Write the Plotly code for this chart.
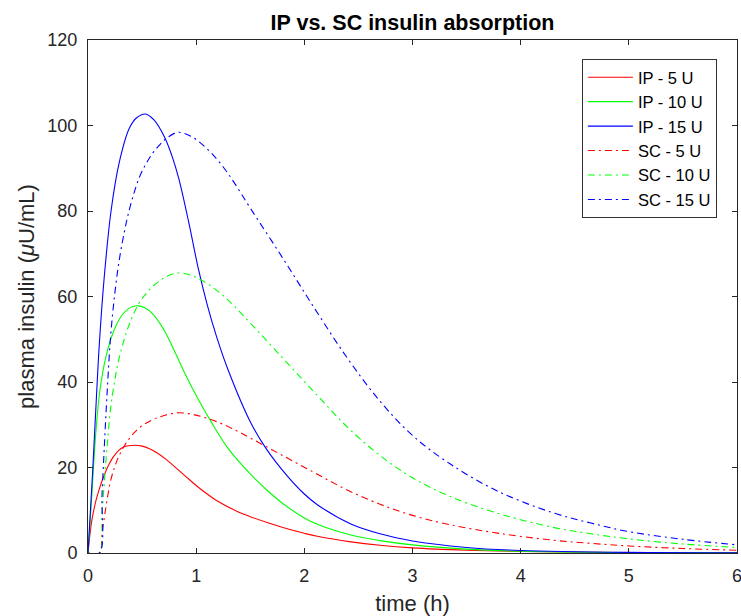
import plotly.graph_objects as go

# ---- data ----
ip5_t  = [0, 0.028, 0.05, 0.074, 0.1, 0.136, 0.18, 0.229, 0.28, 0.33, 0.38, 0.43, 0.5, 0.568, 0.64, 0.722, 0.8, 0.9, 1.0, 1.08, 1.2, 1.39, 1.5, 1.67, 1.81, 2.0, 2.12, 2.43, 2.7, 3.0, 3.5, 4.0, 5.0, 6.0]
ip5_v  = [0, 6.4, 9.6, 12.3, 14.6, 17.3, 20.0, 22.3, 23.9, 24.8, 25.1, 25.2, 25.0, 24.4, 23.4, 21.9, 20.2, 18.0, 15.8, 14.2, 12.1, 9.6, 8.5, 7.0, 5.9, 4.6, 3.9, 2.6, 1.8, 1.2, 0.65, 0.35, 0.12, 0.05]

ip10_t = [0, 0.028, 0.058, 0.085, 0.11, 0.14, 0.167, 0.216, 0.26, 0.31, 0.367, 0.42, 0.466, 0.53, 0.6, 0.66, 0.722, 0.8, 0.9, 1.02, 1.15, 1.30, 1.5, 1.65, 1.81, 2.0, 2.12, 2.43, 2.7, 3.0, 3.5, 4.0, 5.0, 6.0]
ip10_v = [0, 10.5, 23.0, 32.0, 38.0, 42.8, 46.0, 50.4, 53.2, 55.5, 57.0, 57.7, 57.8, 57.3, 55.9, 53.9, 51.3, 47.2, 41.8, 35.9, 30.2, 24.3, 18.5, 14.8, 11.4, 8.2, 6.7, 4.2, 2.9, 1.9, 0.9, 0.4, 0.1, 0.05]

ip15_t = [0, 0.043, 0.074, 0.105, 0.15, 0.213, 0.29, 0.383, 0.45, 0.53, 0.61, 0.707, 0.78, 0.84, 0.93, 1.02, 1.1, 1.19, 1.3, 1.5, 1.65, 1.81, 2.0, 2.12, 2.43, 2.7, 3.0, 3.5, 4.0, 5.0, 6.0]
ip15_v = [0, 19.0, 34.5, 49.0, 64.5, 80.0, 91.5, 99.4, 101.8, 102.7, 101.3, 97.3, 92.6, 87.5, 77.5, 66.5, 58.3, 50.5, 42.5, 30.7, 24.3, 19.0, 13.8, 11.3, 6.8, 4.5, 2.8, 1.3, 0.6, 0.15, 0.05]

sc_t   = [0, 0.105, 0.13, 0.155, 0.18, 0.21, 0.25, 0.29, 0.34, 0.38, 0.43, 0.48, 0.54, 0.60, 0.66, 0.72, 0.83, 0.95, 1.05, 1.15, 1.25, 1.35, 1.5, 1.8, 2.1, 2.4, 2.7, 3.0, 3.35, 3.8, 4.3, 4.65, 5.0, 5.5, 6.0]
sc5_v  = [0, 0, 4.6, 9.0, 13.0, 17.0, 20.4, 22.9, 25.2, 26.7, 28.2, 29.4, 30.4, 31.2, 31.8, 32.3, 32.8, 32.5, 31.9, 31.1, 30.1, 28.9, 26.9, 22.8, 18.7, 14.7, 11.4, 8.8, 6.6, 4.6, 3.0, 2.25, 1.65, 1.05, 0.65]
sc10_v = [0, 0, 9.2, 18.0, 26.0, 34.0, 40.8, 45.8, 50.4, 53.4, 56.4, 58.8, 60.8, 62.4, 63.6, 64.6, 65.5, 65.0, 63.8, 62.2, 60.2, 57.8, 53.8, 45.6, 37.4, 29.4, 22.8, 17.6, 13.2, 9.2, 6.0, 4.5, 3.3, 2.1, 1.3]
sc15_v = [0, 0, 13.8, 27.0, 39.0, 51.0, 61.2, 68.7, 75.6, 80.1, 84.6, 88.2, 91.2, 93.6, 95.4, 96.9, 98.4, 97.5, 95.7, 93.3, 90.3, 86.7, 80.7, 69.0, 57.0, 45.5, 35.5, 27.5, 20.8, 14.3, 9.4, 7.0, 5.0, 3.2, 1.9]

names = ["IP - 5 U", "IP - 10 U", "IP - 15 U", "SC - 5 U", "SC - 10 U", "SC - 15 U"]
colors = ["#FF0000", "#00FF00", "#0000FF"]

x_ticks = [0, 1, 2, 3, 4, 5, 6]
y_ticks = [0, 20, 40, 60, 80, 100, 120]

dashdot = "7px,4px,2px,4px"
series = [
    (ip5_t, ip5_v, colors[0], "solid"),
    (ip10_t, ip10_v, colors[1], "solid"),
    (ip15_t, ip15_v, colors[2], "solid"),
    (sc_t, sc5_v, colors[0], dashdot),
    (sc_t, sc10_v, colors[1], dashdot),
    (sc_t, sc15_v, colors[2], dashdot),
]

fig = go.Figure()
for i, (t, v, c, d) in enumerate(series):
    fig.add_trace(go.Scatter(
        x=t, y=v, mode="lines", name=names[i],
        line=dict(color=c, width=1.1, dash=d, shape="spline", smoothing=1.0),
    ))

axis_col = "#262626"
font_fam = "Liberation Sans, Arial, sans-serif"

fig.update_layout(
    width=741, height=616,
    margin=dict(l=88, r=4, t=40, b=63, autoexpand=False),
    paper_bgcolor="white", plot_bgcolor="white",
    font=dict(family=font_fam, size=18, color=axis_col),
    title=dict(text="<b>IP vs. SC insulin absorption</b>", x=0.5, xref="paper", xanchor="center",
               y=1 - 22 / 616, yref="container", yanchor="middle",
               font=dict(size=21.5, color="#000000")),
    showlegend=True,
    legend=dict(x=0.969, xanchor="right", y=0.963, yanchor="top",
                bgcolor="white", bordercolor="#333333", borderwidth=1,
                font=dict(size=16.5, color="#000000"),
                traceorder="normal", itemwidth=45),
)

fig.update_xaxes(range=[0, 6], tickvals=x_ticks, ticktext=[str(v) for v in x_ticks],
                 showgrid=False, zeroline=False, showline=True, linecolor=axis_col, linewidth=1,
                 mirror="ticks", ticks="inside", ticklen=5, tickcolor=axis_col, tickwidth=1,
                 automargin=False, ticklabeloverflow="allow", ticklabelstandoff=6,
                 title=dict(text="time (h)", standoff=12),
                 tickfont=dict(size=18, color=axis_col))
fig.update_yaxes(range=[0, 120], tickvals=y_ticks, ticktext=[str(v) for v in y_ticks],
                 showgrid=False, zeroline=False, showline=True, linecolor=axis_col, linewidth=1,
                 mirror="ticks", ticks="inside", ticklen=5, tickcolor=axis_col, tickwidth=1,
                 automargin=False, ticklabeloverflow="allow", ticklabelstandoff=6,
                 title=dict(text="plasma insulin (<i>μ</i>U/mL)", standoff=6),
                 tickfont=dict(size=18, color=axis_col))

fig.write_html("out.html", config={"displayModeBar": False})

# remove the browser's default page margin so the figure sits at the window origin
with open("out.html", "r", encoding="utf-8") as f:
    html = f.read()
html = html.replace("<head>", "<head><style>html,body{margin:0;padding:0;overflow:hidden;}</style>", 1)
with open("out.html", "w", encoding="utf-8") as f:
    f.write(html)
